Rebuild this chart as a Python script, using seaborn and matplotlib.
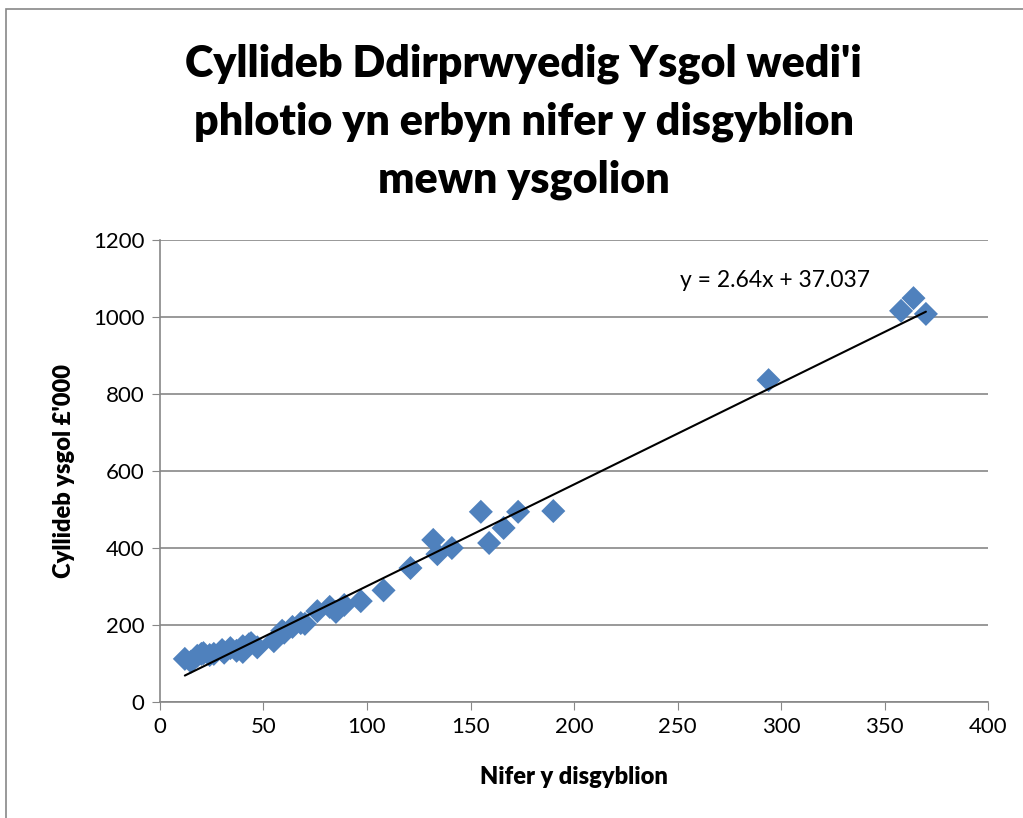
import numpy as np
import pandas as pd
import seaborn as sns
import matplotlib
import matplotlib.pyplot as plt
from matplotlib.patches import Rectangle

matplotlib.use('Agg')

# Datos
disgyblion = [12, 15, 18, 20, 21, 24, 26, 30, 31, 34, 37, 40, 40, 43, 44, 47,
              55, 59, 60, 64, 68, 70, 76, 82, 85, 89, 97, 108, 121, 132, 134,
              141, 155, 159, 166, 173, 190, 294, 358, 364, 370]
cyllideb = [112, 105, 120, 125, 127, 122, 125, 135, 128, 140, 133, 130, 145, 150, 153, 142,
            158, 185, 180, 195, 205, 203, 236, 247, 234, 252, 262, 290, 348, 421, 384,
            400, 494, 413, 452, 494, 496, 836, 1016, 1049, 1008]
slope = 2.64
intercept = 37.037

df = pd.DataFrame({"x": disgyblion, "y": cyllideb})

sns.set_style("white")
plt.rcParams['font.family'] = ['Lato', 'DejaVu Sans']
plt.rcParams['text.color'] = 'black'
plt.rcParams['axes.labelcolor'] = 'black'
plt.rcParams['xtick.color'] = 'black'
plt.rcParams['ytick.color'] = 'black'

fig = plt.figure(figsize=(10.23, 8.18), dpi=100)
ax = fig.add_axes([0.1564, 0.1418, 0.8094, 0.5648])

ax.set_axisbelow(True)
ax.yaxis.grid(True, color="#878787", linewidth=1.2)
sns.scatterplot(data=df, x="x", y="y", marker="D", s=150, color="#4F81BD",
                edgecolor="none", ax=ax, zorder=3)

# linea de tendencia
xs = np.array([min(disgyblion), max(disgyblion)])
ax.plot(xs, slope * xs + intercept, color="black", linewidth=1.5, zorder=4)
ax.text(251, 1096, "y = 2.64x + 37.037", fontsize=16.5, va="center", ha="left")

ax.set_xlim(0, 400)
ax.set_ylim(0, 1200)
ax.set_xticks(range(0, 401, 50))
ax.set_yticks(range(0, 1201, 200))
ax.tick_params(axis="both", labelsize=16, length=6, direction="out",
               color="#878787", labelcolor="black", bottom=True, left=True, pad=5)
for side in ["top", "right"]:
    ax.spines[side].set_visible(False)
for side in ["left", "bottom"]:
    ax.spines[side].set_color("#878787")
    ax.spines[side].set_linewidth(1.2)

ax.set_xlabel("Nifer y disgyblion", fontsize=17, fontweight="heavy", labelpad=21)
ax.set_ylabel("Cyllideb ysgol £'000", fontsize=17, fontweight="heavy", labelpad=13)

fig.text(0.512, 0.851, "Cyllideb Ddirprwyedig Ysgol wedi'i\nphlotio yn erbyn nifer y disgyblion\nmewn ysgolion",
         ha="center", va="center", fontsize=31, fontweight="heavy", linespacing=1.52)

fig.patches.append(Rectangle((0.006, -0.1), 1.2, 1.089, transform=fig.transFigure,
                             fill=False, edgecolor="#878787", linewidth=1.2))

plt.savefig("out.png", dpi=100)
plt.close()
